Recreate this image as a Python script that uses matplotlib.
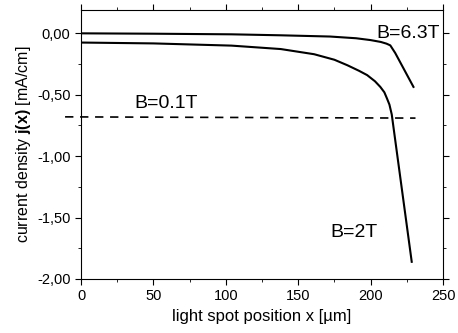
import matplotlib
matplotlib.use("Agg")
import matplotlib.pyplot as plt
from matplotlib.ticker import FuncFormatter, MultipleLocator

plt.rcParams['font.family'] = ['Liberation Sans', 'DejaVu Sans']
plt.rcParams['mathtext.fontset'] = 'custom'
plt.rcParams['mathtext.rm'] = 'Liberation Sans'
plt.rcParams['mathtext.bf'] = 'Liberation Sans:bold'

x_63 = [0, 50, 104, 138, 172, 190, 200, 207, 211, 213.6, 217, 229.6]
y_63 = [0.00, -0.003, -0.008, -0.016, -0.026, -0.04, -0.055, -0.07, -0.084, -0.098, -0.16, -0.436]

x_2 = [0, 50, 104, 138, 161, 175, 184, 192, 197.6, 203, 206.7, 209.5, 211.3, 213, 214.6, 228.4]
y_2 = [-0.075, -0.082, -0.10, -0.128, -0.17, -0.215, -0.26, -0.305, -0.34, -0.39, -0.436, -0.48, -0.53, -0.58, -0.66, -1.86]

x_01 = [-11, 231]
y_01 = [-0.68, -0.69]

fig = plt.figure(figsize=(4.58, 3.33), dpi=100)
ax = fig.add_axes([81/458, 1 - 279/333, (443-81)/458, (279-10)/333])

ax.plot(x_63, y_63, color='black', lw=1.5)
ax.plot(x_2, y_2, color='black', lw=1.5)
ax.plot(x_01, y_01, color='black', lw=1.2, ls=(0, (5, 4)), clip_on=False)

ax.set_xlim(0, 250)
ax.set_ylim(-2.0, 0.19)
ax.xaxis.set_major_locator(MultipleLocator(50))
ax.xaxis.set_minor_locator(MultipleLocator(25))
ax.yaxis.set_major_locator(MultipleLocator(0.5))
ax.yaxis.set_minor_locator(MultipleLocator(0.25))
ax.yaxis.set_major_formatter(FuncFormatter(lambda v, p: f"{v:.2f}".replace('.', ',').replace('-0,00', '0,00')))
ax.tick_params(which='both', direction='out', top=True, right=True, labelsize=10.5)
ax.tick_params(which='major', length=4)
ax.tick_params(which='minor', length=2)
for s in ax.spines.values():
    s.set_linewidth(0.8)

ax.text(37, -0.61, 'B=0.1T', fontsize=14)
ax.text(204, -0.035, 'B=6.3T', fontsize=14)
ax.text(172, -1.66, 'B=2T', fontsize=14)

ax.set_xlabel('light spot position x [µm]', fontsize=12)
ax.set_ylabel(r'current density $\mathbf{j(x)}$ [mA/cm]', fontsize=11.5, labelpad=3)

fig.savefig('out.png', dpi=100)
